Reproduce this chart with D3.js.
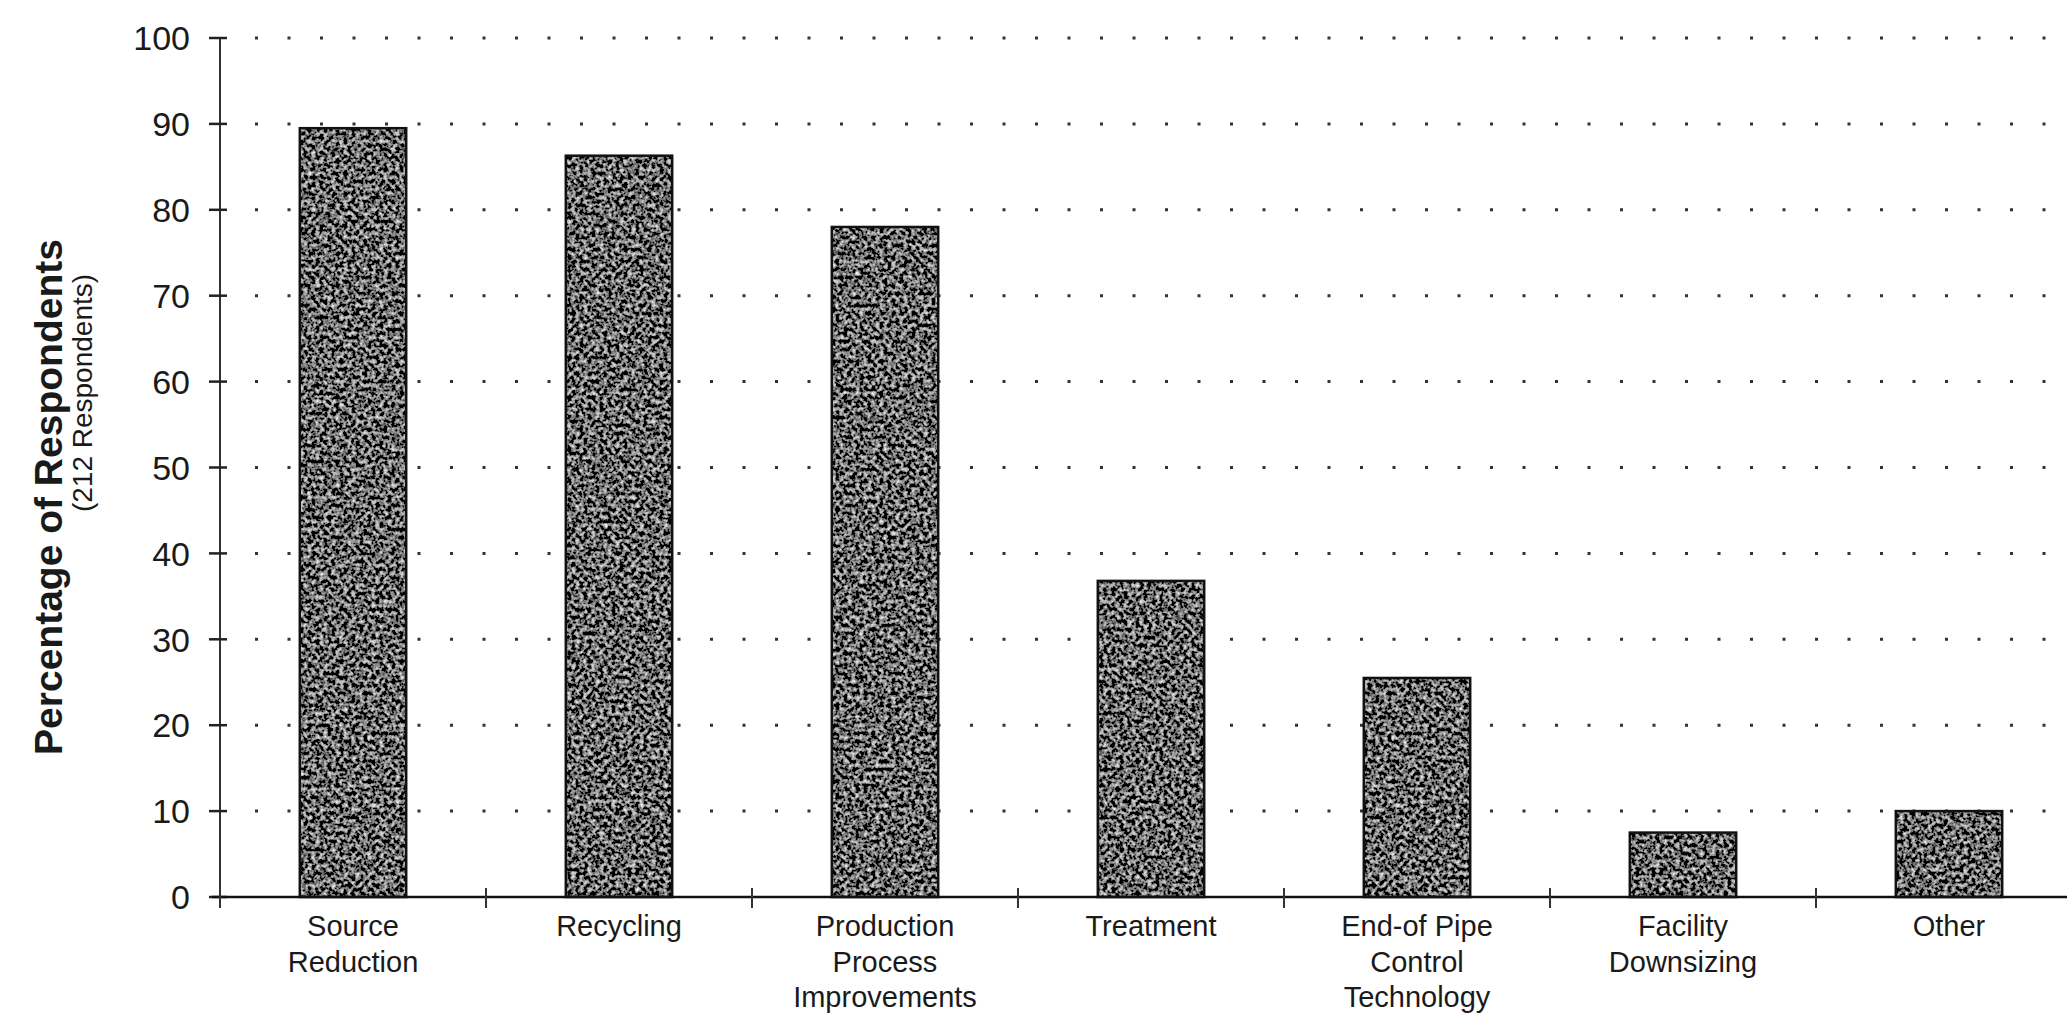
<!DOCTYPE html>
<html lang="en">
<head>
<meta charset="UTF-8">
<title>Percentage of Respondents</title>
<script src="https://cdn.jsdelivr.net/npm/d3@7/dist/d3.min.js"></script>
<style>
  body { margin: 0; background: #fff; }
  svg { display: block; font-family: Arial, "Liberation Sans", Helvetica, sans-serif; }
</style>
</head>
<body>
<svg id="chart" width="2067" height="1015"></svg>
<script>
  // data
  const categories = ["Source Reduction", "Recycling", "Production Process Improvements",
    "Treatment", "End-of Pipe Control Technology", "Facility Downsizing", "Other"];
  const labelLines = [["Source", "Reduction"], ["Recycling"], ["Production", "Process", "Improvements"],
    ["Treatment"], ["End-of Pipe", "Control", "Technology"], ["Facility", "Downsizing"], ["Other"]];
  const percents = [89.5, 86.3, 78.0, 36.8, 25.5, 7.5, 10.0];
  const yTicks = [0, 10, 20, 30, 40, 50, 60, 70, 80, 90, 100];

  const svg = d3.select("#chart");
  const W = 2067, padL = 220, baseY = 897, topY = 38;

  const x = d3.scaleBand()
    .domain(categories)
    .range([padL, padL + 7 * 266])
    .paddingInner(0.6)
    .paddingOuter(0.3);

  const y = d3.scaleLinear().domain([0, 100]).range([baseY, topY]);

  // mottled scan texture for the bars
  const defs = svg.append("defs");
  const f = defs.append("filter").attr("id", "grain")
    .attr("x", 0).attr("y", 0).attr("width", 1).attr("height", 1);
  f.append("feTurbulence").attr("type", "fractalNoise")
    .attr("baseFrequency", 0.25).attr("numOctaves", 3).attr("seed", 7).attr("result", "noise");
  f.append("feColorMatrix").attr("in", "noise").attr("type", "matrix")
    .attr("values", "1.9 0 0 0 -0.8  1.9 0 0 0 -0.8  1.9 0 0 0 -0.8  0 0 0 0 1")
    .attr("result", "mix");
  f.append("feComposite").attr("in", "mix").attr("in2", "SourceGraphic").attr("operator", "in");

  // dotted gridlines
  svg.append("g")
    .selectAll("line")
    .data(yTicks.filter(d => d > 0))
    .join("line")
    .attr("x1", padL + 35).attr("x2", W)
    .attr("y1", d => y(d)).attr("y2", d => y(d))
    .attr("stroke", "#333")
    .attr("stroke-width", 3)
    .attr("stroke-dasharray", "3 29.5");

  // bars
  const bars = svg.append("g");
  bars.selectAll("rect.fill")
    .data(categories)
    .join("rect")
    .attr("class", "fill")
    .attr("x", d => x(d))
    .attr("y", (d, i) => y(percents[i]))
    .attr("width", x.bandwidth())
    .attr("height", (d, i) => y(0) - y(percents[i]))
    .attr("fill", "#000")
    .attr("filter", "url(#grain)");
  bars.selectAll("rect.edge")
    .data(categories)
    .join("rect")
    .attr("class", "edge")
    .attr("x", d => x(d))
    .attr("y", (d, i) => y(percents[i]))
    .attr("width", x.bandwidth())
    .attr("height", (d, i) => y(0) - y(percents[i]))
    .attr("fill", "none")
    .attr("stroke", "#111")
    .attr("stroke-width", 2.5);

  // y axis
  const yAxis = svg.append("g");
  yAxis.append("line")
    .attr("x1", padL).attr("x2", padL)
    .attr("y1", y(100)).attr("y2", baseY + 10)
    .attr("stroke", "#333").attr("stroke-width", 2);
  yAxis.selectAll("line.tick")
    .data(yTicks)
    .join("line")
    .attr("class", "tick")
    .attr("x1", padL - 11).attr("x2", padL + 7)
    .attr("y1", d => y(d)).attr("y2", d => y(d))
    .attr("stroke", "#222").attr("stroke-width", 2.5);
  yAxis.selectAll("text")
    .data(yTicks)
    .join("text")
    .attr("x", 190)
    .attr("y", d => y(d))
    .attr("dy", "0.36em")
    .attr("text-anchor", "end")
    .attr("font-size", 34)
    .attr("fill", "#1a1a1a")
    .text(d => d);

  // x axis
  const xAxis = svg.append("g");
  xAxis.append("line")
    .attr("x1", padL - 8).attr("x2", W)
    .attr("y1", baseY).attr("y2", baseY)
    .attr("stroke", "#111").attr("stroke-width", 2.5);
  xAxis.selectAll("line.tick")
    .data(categories)
    .join("line")
    .attr("class", "tick")
    .attr("x1", d => x(d) - x.step() * 0.3)
    .attr("x2", d => x(d) - x.step() * 0.3)
    .attr("y1", baseY - 9).attr("y2", baseY + 11)
    .attr("stroke", "#333").attr("stroke-width", 2);

  xAxis.selectAll("text")
    .data(categories)
    .join("text")
    .attr("text-anchor", "middle")
    .attr("font-size", 29)
    .attr("fill", "#1a1a1a")
    .each(function (d, i) {
      d3.select(this).selectAll("tspan")
        .data(labelLines[i])
        .join("tspan")
        .attr("x", x(d) + x.bandwidth() / 2)
        .attr("y", (t, k) => 936 + k * 35.5)
        .text(t => t);
    });

  // y title
  svg.append("text")
    .attr("transform", "translate(62,497) rotate(-90)")
    .attr("text-anchor", "middle")
    .attr("font-size", 39)
    .attr("font-weight", "bold")
    .attr("fill", "#1a1a1a")
    .text("Percentage of Respondents");
  svg.append("text")
    .attr("transform", "translate(92,393) rotate(-90)")
    .attr("text-anchor", "middle")
    .attr("font-size", 28)
    .attr("fill", "#1a1a1a")
    .text("(212 Respondents)");
</script>
</body>
</html>
